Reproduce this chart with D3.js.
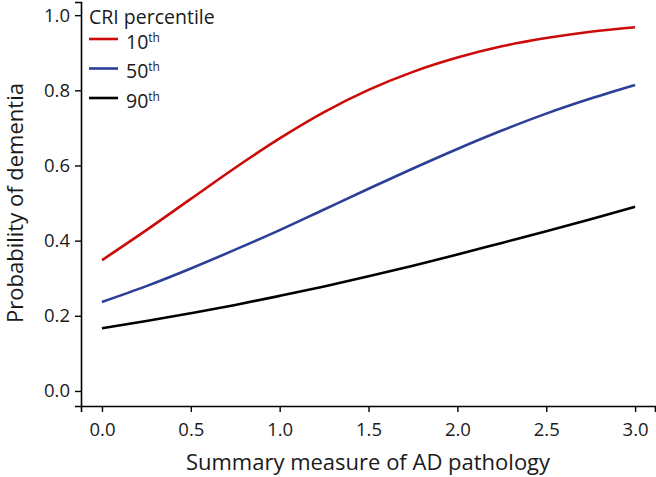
<!DOCTYPE html>
<html><head><meta charset="utf-8">
<script src="https://cdn.jsdelivr.net/npm/d3@7/dist/d3.min.js"></script>
<style>
body{margin:0;background:#fff;}
text{font-family:"Open Sans",sans-serif;fill:#1a1a1a;}
</style></head><body>
<svg id="c" width="656" height="477"></svg>
<script>
const xValues = [0, 0.25, 0.5, 0.75, 1.0, 1.25, 1.5, 1.75, 2.0, 2.25, 2.5, 2.75, 3.0];
const p10 = [0.348, 0.428, 0.511, 0.594, 0.672, 0.742, 0.801, 0.849, 0.887, 0.917, 0.939, 0.956, 0.968];
const p50 = [0.237, 0.279, 0.326, 0.376, 0.428, 0.483, 0.538, 0.592, 0.644, 0.693, 0.738, 0.778, 0.814];
const p90 = [0.167, 0.186, 0.207, 0.229, 0.253, 0.278, 0.305, 0.333, 0.363, 0.394, 0.425, 0.457, 0.490];
const seriesNames = ["10", "50", "90"];
const seriesColors = ["#cc0a0a", "#2c3f98", "#000000"];
const xTicks = [0, 0.5, 1.0, 1.5, 2.0, 2.5, 3.0];
const yTicks = [0, 0.2, 0.4, 0.6, 0.8, 1.0];

const svg = d3.select("#c");
const x = d3.scaleLinear().domain([-0.118, 3.112]).range([81, 655]);
const y = d3.scaleLinear().domain([-0.04, 1.035]).range([406, 2]);

const fs = 18.5;
const xAxis = svg.append("g").attr("transform", "translate(0,406)")
  .call(d3.axisBottom(x).tickValues(xTicks).tickFormat(d3.format(".1f")).tickSizeOuter(0).tickSize(6).tickPadding(11));
const yAxis = svg.append("g").attr("transform", "translate(81,0)")
  .call(d3.axisLeft(y).tickValues(yTicks).tickFormat(d3.format(".1f")).tickSizeOuter(0).tickSize(6).tickPadding(5));
[xAxis, yAxis].forEach(g => {
  g.selectAll("path.domain").attr("stroke", "#000").attr("stroke-width", 1.6);
  g.selectAll(".tick line").attr("stroke", "#000").attr("stroke-width", 1.4);
  g.selectAll(".tick text").attr("font-family", "Open Sans").attr("font-size", fs).attr("fill", "#1a1a1a");
});

const all = [p10, p50, p90];
const line = d3.line().x((d, i) => x(xValues[i])).y(d => y(d)).curve(d3.curveMonotoneX);
all.forEach((s, k) => {
  svg.append("path").datum(s).attr("d", line).attr("fill", "none")
    .attr("stroke", seriesColors[k]).attr("stroke-width", 2.6);
});

// Legend
svg.append("text").attr("x", 89).attr("y", 24).attr("font-size", 19.5).text("CRI percentile");
seriesNames.forEach((n, k) => {
  const yy = 39 + k * 29.5;
  svg.append("line").attr("x1", 89).attr("x2", 118).attr("y1", yy).attr("y2", yy)
    .attr("stroke", seriesColors[k]).attr("stroke-width", 2.6);
  const t = svg.append("text").attr("x", 126).attr("y", yy + 9.5).attr("font-size", 19.5);
  t.append("tspan").text(n);
  t.append("tspan").attr("font-size", 12).attr("dy", -7).text("th");
});

// Axis titles
svg.append("text").attr("x", 368).attr("y", 470).attr("text-anchor", "middle")
  .attr("font-size", 22).text("Summary measure of AD pathology");
svg.append("text").attr("transform", "translate(23,203) rotate(-90)").attr("text-anchor", "middle")
  .attr("font-size", 22).text("Probability of dementia");
</script>
</body></html>
